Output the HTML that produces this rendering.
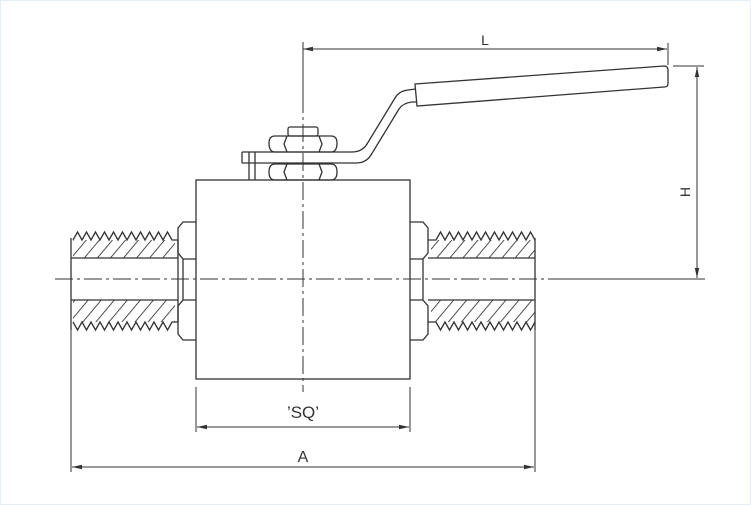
<!DOCTYPE html>
<html><head><meta charset="utf-8"><style>
html,body{margin:0;padding:0;background:#fff}
svg{display:block}
text{font-family:"Liberation Sans",sans-serif;fill:#333}
</style></head><body>
<svg width="751" height="505" viewBox="0 0 751 505" xmlns="http://www.w3.org/2000/svg">
<defs>
<pattern id="h" patternUnits="userSpaceOnUse" width="10" height="10" patternTransform="rotate(40)">
<line x1="0" y1="0" x2="0" y2="10" stroke="#222" stroke-width="1.6"/>
</pattern>
<marker id="a" markerWidth="10" markerHeight="6" refX="10" refY="3" orient="auto" markerUnits="userSpaceOnUse"><path d="M0,0.8 L10,3 L0,5.2z" fill="#333"/></marker>
<marker id="b" markerWidth="10" markerHeight="6" refX="0" refY="3" orient="auto" markerUnits="userSpaceOnUse"><path d="M10,0.8 L0,3 L10,5.2z" fill="#333"/></marker>
</defs>
<rect x="0.5" y="0.5" width="750" height="504" fill="#fff" stroke="#e3eef6"/>
<g fill="none" stroke="#333" stroke-width="1.3">
<rect x="196" y="180" width="214" height="199"/>
<path d="M196,222 H183 L178,228 V253 L183,259 V300 L178,306 V334 L183,340 H196"/>
<path d="M183,259 H196 M183,300 H196"/>
<path d="M410,222 H423 L428,228 V253 L423,259 V300 L428,306 V334 L423,340 H410"/>
<path d="M423,259 H410 M423,300 H410"/>
<rect x="73" y="240" width="102" height="18" fill="url(#h)" stroke="none"/>
<rect x="73" y="300" width="102" height="22" fill="url(#h)" stroke="none"/>
<path d="M73,240 l4.5,-8 l4.5,8 l4.5,-8 l4.5,8 l4.5,-8 l4.5,8 l4.5,-8 l4.5,8 l4.5,-8 l4.5,8 l4.5,-8 l4.5,8 l4.5,-8 l4.5,8 l4.5,-8 l4.5,8 l4.5,-8 l4.5,8 l4.5,-8 l4.5,8 l4.5,-8 l4.5,8 L178,240"/>
<path d="M73,322 l4.5,8 l4.5,-8 l4.5,8 l4.5,-8 l4.5,8 l4.5,-8 l4.5,8 l4.5,-8 l4.5,8 l4.5,-8 l4.5,8 l4.5,-8 l4.5,8 l4.5,-8 l4.5,8 l4.5,-8 l4.5,8 l4.5,-8 l4.5,8 l4.5,-8 l4.5,8 l4.5,-8 L178,322"/>
<path d="M71,238 V330 M71,258 H178 M71,300 H178 M178,240 V322"/>
<rect x="431" y="240" width="104" height="18" fill="url(#h)" stroke="none"/>
<rect x="431" y="300" width="104" height="22" fill="url(#h)" stroke="none"/>
<path d="M428,240 L436,240 l4.5,-8 l4.5,8 l4.5,-8 l4.5,8 l4.5,-8 l4.5,8 l4.5,-8 l4.5,8 l4.5,-8 l4.5,8 l4.5,-8 l4.5,8 l4.5,-8 l4.5,8 l4.5,-8 l4.5,8 l4.5,-8 l4.5,8 l4.5,-8 l4.5,8 l4.5,-8 l4.5,8 L535,240"/>
<path d="M428,322 L436,322 l4.5,8 l4.5,-8 l4.5,8 l4.5,-8 l4.5,8 l4.5,-8 l4.5,8 l4.5,-8 l4.5,8 l4.5,-8 l4.5,8 l4.5,-8 l4.5,8 l4.5,-8 l4.5,8 l4.5,-8 l4.5,8 l4.5,-8 l4.5,8 l4.5,-8 l4.5,8 l4.5,-8 L535,322"/>
<path d="M535,238 V330 M428,258 H535 M428,300 H535"/>
<rect x="288" y="127" width="30" height="9" rx="2"/>
<path d="M275,136 H331 Q337,136 337,143 Q337,152 331,152 H275 Q269,152 269,143 Q269,136 275,136Z M287,136 L284,144 L287,152 M319,136 L322,144 L319,152"/>
<path d="M275,164 H331 Q337,164 337,172 Q337,180 331,180 H275 Q269,180 269,172 Q269,164 275,164Z M287,164 L284,172 L287,180 M319,164 L322,172 L319,180"/>
<path d="M242,152 H352 Q362,152 367,144 L395,98 Q399,91 408,90 L416,89"/>
<path d="M242,163 H356 Q366,163 371,155 L399,109 Q403,103 412,102 L417,102"/>
<path d="M242,152 V163 M249,152 V180 M255,152 V180"/>
<path d="M415,84 L664,66 Q668,66 668,70 V84 Q668,87 664,87 L417,106 Z"/>
</g>
<g stroke="#333" stroke-width="1" stroke-dasharray="18,4,3,4" fill="none">
<line x1="303" y1="95" x2="303" y2="392"/>
<line x1="55" y1="279" x2="575" y2="279"/>
</g>
<g stroke="#333" stroke-width="1" fill="none">
<line x1="303" y1="42" x2="303" y2="95"/>
<line x1="555" y1="279" x2="705" y2="279"/>
<line x1="668" y1="43" x2="668" y2="65"/>
<line x1="673" y1="66" x2="704" y2="66"/>
<line x1="303" y1="49" x2="667" y2="49" marker-start="url(#b)" marker-end="url(#a)"/>
<line x1="697" y1="67" x2="697" y2="278" marker-start="url(#b)" marker-end="url(#a)"/>
<line x1="196" y1="387" x2="196" y2="432"/>
<line x1="410" y1="387" x2="410" y2="432"/>
<line x1="197" y1="427" x2="409" y2="427" marker-start="url(#b)" marker-end="url(#a)"/>
<line x1="71" y1="330" x2="71" y2="472"/>
<line x1="535" y1="330" x2="535" y2="472"/>
<line x1="72" y1="467" x2="534" y2="467" marker-start="url(#b)" marker-end="url(#a)"/>
</g>
<text x="485" y="45" font-size="14" text-anchor="middle">L</text>
<text x="690" y="192" font-size="14" text-anchor="middle" transform="rotate(-90 690 192)">H</text>
<text x="303" y="418" font-size="17" text-anchor="middle">’SQ’</text>
<text x="303" y="462" font-size="16" text-anchor="middle">A</text>
</svg>
</body></html>
